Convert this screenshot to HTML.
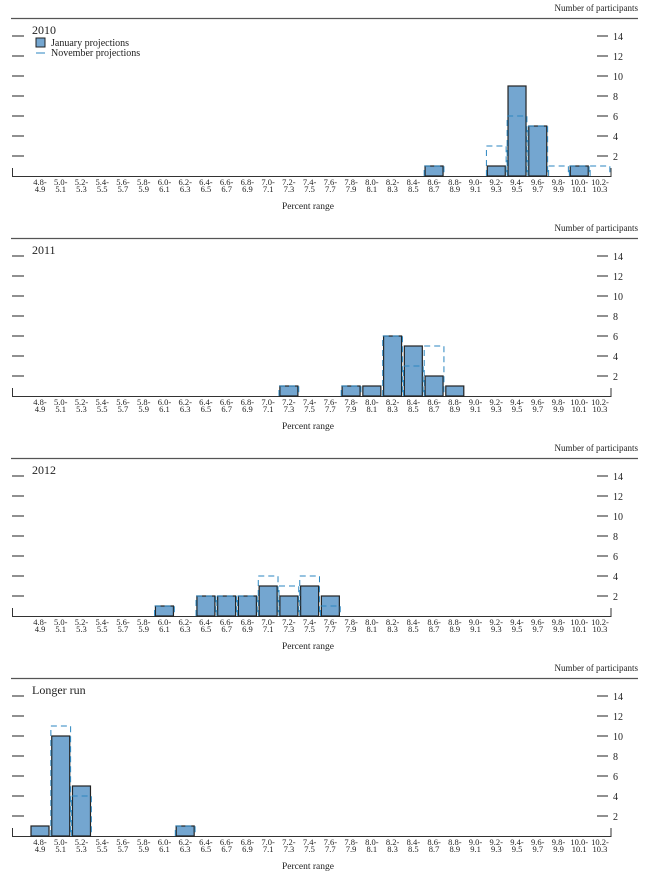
<!DOCTYPE html>
<html><head><meta charset="utf-8"><style>
body{margin:0;background:#fff;font-family:"Liberation Serif",serif;}
svg text{font-family:"Liberation Serif",serif;fill:#222;}
</style></head><body>
<svg id="c" width="650" height="873" xmlns="http://www.w3.org/2000/svg"></svg>
<script>
const categories=["4.8-4.9","5.0-5.1","5.2-5.3","5.4-5.5","5.6-5.7","5.8-5.9","6.0-6.1","6.2-6.3","6.4-6.5","6.6-6.7","6.8-6.9","7.0-7.1","7.2-7.3","7.4-7.5","7.6-7.7","7.8-7.9","8.0-8.1","8.2-8.3","8.4-8.5","8.6-8.7","8.8-8.9","9.0-9.1","9.2-9.3","9.4-9.5","9.6-9.7","9.8-9.9","10.0-10.1","10.2-10.3"];
const panelTitles=["2010","2011","2012","Longer run"];
const yTicks=[2,4,6,8,10,12,14];
const jan2010=[0,0,0,0,0,0,0,0,0,0,0,0,0,0,0,0,0,0,0,1,0,0,1,9,5,0,1,0];
const nov2010=[0,0,0,0,0,0,0,0,0,0,0,0,0,0,0,0,0,0,0,1,0,0,3,6,5,1,1,1];
const jan2011=[0,0,0,0,0,0,0,0,0,0,0,0,1,0,0,1,1,6,5,2,1,0,0,0,0,0,0,0];
const nov2011=[0,0,0,0,0,0,0,0,0,0,0,0,1,0,0,1,0,6,3,5,0,0,0,0,0,0,0,0];
const jan2012=[0,0,0,0,0,0,1,0,2,2,2,3,2,3,2,0,0,0,0,0,0,0,0,0,0,0,0,0];
const nov2012=[0,0,0,0,0,0,1,0,2,2,2,4,3,4,1,0,0,0,0,0,0,0,0,0,0,0,0,0];
const janLR=[1,10,5,0,0,0,0,1,0,0,0,0,0,0,0,0,0,0,0,0,0,0,0,0,0,0,0,0];
const novLR=[0,11,4,0,0,0,0,1,0,0,0,0,0,0,0,0,0,0,0,0,0,0,0,0,0,0,0,0];
const janSeries=[jan2010,jan2011,jan2012,janLR];
const novSeries=[nov2010,nov2011,nov2012,novLR];

const svg=document.getElementById('c');
const NS='http://www.w3.org/2000/svg';
function mk(tag,attrs,parent){const e=document.createElementNS(NS,tag);for(const k in attrs)e.setAttribute(k,attrs[k]);(parent||svg).appendChild(e);return e;}
const x0=40,step=20.74,bw=18;
function xc(i){return x0+i*step;}
for(let p=0;p<4;p++){
  const off=p*220, base=176+off;
  const y=v=>base-v*10;
  const g=mk('g',{});
  
  
  let t=mk('text',{x:638,y:11+off,'font-size':9,'text-anchor':'end'},g);t.textContent='Number of participants';
  
  mk('line',{x1:11,x2:638,y1:18.5+off,y2:18.5+off,stroke:'#555','stroke-width':1.2},g);
  t=mk('text',{x:32,y:34+off,'font-size':12},g);t.textContent=panelTitles[p];
  
  yTicks.forEach(v=>{
    mk('line',{x1:12,x2:24,y1:y(v),y2:y(v),stroke:'#222','stroke-width':1},g);
    mk('line',{x1:597,x2:608,y1:y(v),y2:y(v),stroke:'#222','stroke-width':1},g);
    const tt=mk('text',{x:613,y:y(v)+4,'font-size':10},g);tt.textContent=v;
    
  });
  mk('path',{d:`M12.5 ${base-8} V${base+0.5} H611 V${base-8}`,fill:'none',stroke:'#333','stroke-width':1},g);
  categories.forEach((c,i)=>{
    const [a,b]=c.split('-');
    const t1=mk('text',{x:xc(i),y:base+9,'font-size':8.5,'text-anchor':'middle'},g);t1.textContent=a+'-';
    
    const t2=mk('text',{x:xc(i),y:base+16,'font-size':8.5,'text-anchor':'middle'},g);t2.textContent=b;
    
  });
  t=mk('text',{x:308,y:base+33,'font-size':9.5,'text-anchor':'middle'},g);t.textContent='Percent range';
  
  janSeries[p].forEach((v,i)=>{
    if(!v)return;
    const r=mk('rect',{x:xc(i)-bw/2,y:y(v),width:bw,height:v*10,fill:'#74a6d0',stroke:'#222','stroke-width':1.2},g);
    
  });
  novSeries[p].forEach((v,i)=>{
    if(!v)return;
    const l=xc(i)-step/2+0.5,rr=xc(i)+step/2-0.5;
    const d=mk('path',{d:`M${l} ${base} V${y(v)} H${rr} V${base}`,fill:'none',stroke:'#2b86c0','stroke-width':1,'stroke-dasharray':'6,4'},g);
    
  });
  if(p===0){
    const lg=mk('g',{},g);
    mk('rect',{x:36,y:38,width:9,height:9,fill:'#74a6d0',stroke:'#222'},lg);
    let lt=mk('text',{x:51,y:46,'font-size':10},lg);lt.textContent='January projections';
    
    mk('line',{x1:36,x2:45,y1:53,y2:53,stroke:'#2b86c0','stroke-width':1},lg);
    lt=mk('text',{x:51,y:56,'font-size':10},lg);lt.textContent='November projections';
    
  }
}
</script>
</body></html>
